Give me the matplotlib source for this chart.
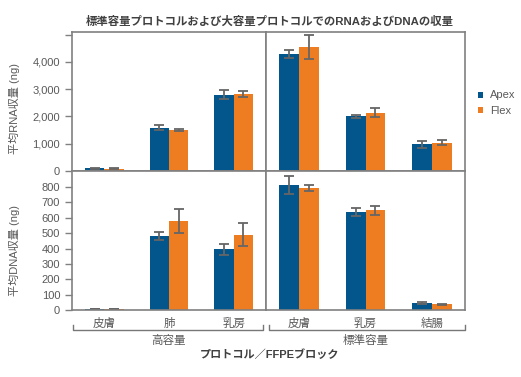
import matplotlib.pyplot as plt
import numpy as np

plt.rcParams['font.family'] = ['Liberation Sans', 'Noto Sans CJK JP']

# data
high_tissues = ['皮膚', '肺', '乳房']
std_tissues = ['皮膚', '乳房', '結腸']

rna_high_apex = [95, 1590, 2800]
rna_high_apex_err = [20, 80, 170]
rna_high_flex = [80, 1500, 2830]
rna_high_flex_err = [15, 50, 100]
rna_std_apex = [4300, 2000, 980]
rna_std_apex_err = [140, 60, 120]
rna_std_flex = [4550, 2140, 1040]
rna_std_flex_err = [450, 160, 80]

dna_high_apex = [5, 480, 395]
dna_high_apex_err = [0, 27, 37]
dna_high_flex = [5, 580, 490]
dna_high_flex_err = [0, 78, 76]
dna_std_apex = [812, 640, 44]
dna_std_apex_err = [60, 25, 6]
dna_std_flex = [795, 648, 36]
dna_std_flex_err = [20, 30, 4]

apex_color = '#02568c'
flex_color = '#ee7d22'
frame_color = '#808080'
text_color = '#595959'

fig = plt.figure(figsize=(5.21, 3.77), dpi=100)
gs = fig.add_gridspec(2, 2, left=72/521, right=465/521, top=1-32/377, bottom=1-310/377,
                      wspace=0, hspace=0, width_ratios=[194, 199])
axes = [[fig.add_subplot(gs[r, c]) for c in range(2)] for r in range(2)]

panels = [
    (0, 0, rna_high_apex, rna_high_apex_err, rna_high_flex, rna_high_flex_err),
    (0, 1, rna_std_apex, rna_std_apex_err, rna_std_flex, rna_std_flex_err),
    (1, 0, dna_high_apex, dna_high_apex_err, dna_high_flex, dna_high_flex_err),
    (1, 1, dna_std_apex, dna_std_apex_err, dna_std_flex, dna_std_flex_err),
]

w = 0.3
x = np.arange(3)
for r, c, a, ae, f, fe in panels:
    ax = axes[r][c]
    ekw = dict(ecolor='#666666', elinewidth=1.3, capsize=3.6, capthick=1.3)
    ax.bar(x - w/2, a, w, yerr=ae, color=apex_color, error_kw=ekw, label='Apex')
    ax.bar(x + w/2, f, w, yerr=fe, color=flex_color, error_kw=ekw, label='Flex')
    ax.set_xlim(-0.5, 2.5)
    for s in ax.spines.values():
        s.set_color(frame_color)
        s.set_linewidth(1.2)
    ax.tick_params(axis='x', length=0, labelsize=8.3, colors=text_color, pad=6)
    if r == 0:
        ax.set_ylim(0, 5100)
        ax.set_xticks([])
    else:
        ax.set_ylim(0, 905)
        ax.set_xticks(x)
        ax.set_xticklabels(high_tissues if c == 0 else std_tissues)
    if c == 1:
        ax.set_yticks([])
    else:
        ax.tick_params(axis='y', length=5, width=1, color=frame_color,
                       labelsize=8, labelcolor=text_color)

ax = axes[0][0]
ax.set_yticks([0, 1000, 2000, 3000, 4000, 5000])
ax.set_yticklabels(['0', '1,000', '2,000', '3,000', '4,000', ''])
ax.set_ylabel('平均RNA収量 (ng)', fontsize=8, color=text_color)
ax.yaxis.set_label_coords(-0.27, 0.45)

ax = axes[1][0]
ax.set_yticks(range(0, 900, 100))
ax.set_ylabel('平均DNA収量 (ng)', fontsize=8, color=text_color)
ax.yaxis.set_label_coords(-0.27, 0.43)

# group brackets under x labels
for c, name in [(0, '高容量'), (1, '標準容量')]:
    ax = axes[1][c]
    tr = ax.get_xaxis_transform()
    x0, x1 = (-0.48, 2.46) if c == 0 else (-0.46, 2.5)
    ax.plot([x0, x0, x1, x1], [-0.11, -0.145, -0.145, -0.11], transform=tr,
            color='#777777', lw=1, clip_on=False)
    ax.text(1, -0.22, name, transform=tr, ha='center', va='center',
            fontsize=8.3, color=text_color)

fig.text(270/521, 1-355/377, 'プロトコル／FFPEブロック', ha='center', va='center',
         fontsize=8, fontweight='bold', color='#404040')
fig.text(270/521, 1-21/377, '標準容量プロトコルおよび大容量プロトコルでのRNAおよびDNAの収量',
         ha='center', va='center', fontsize=8.2, fontweight='bold', color='#404040')

handles, labels = axes[0][0].get_legend_handles_labels()
leg = fig.legend(handles, labels, loc='center left', bbox_to_anchor=(468/521, 1-103/377),
                 frameon=False, fontsize=8, handlelength=0.45, handleheight=0.45,
                 handletextpad=0.6, labelspacing=0.45, labelcolor=text_color)

fig.savefig('out.png', dpi=100)
